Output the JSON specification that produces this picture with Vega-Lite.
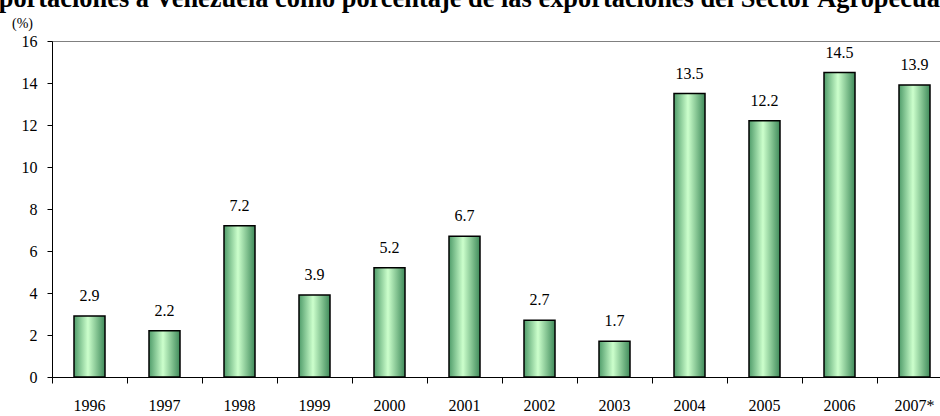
{
  "$schema": "https://vega.github.io/schema/vega-lite/v6.json",
  "autosize": "none",
  "padding": {"left": 52, "top": 41, "right": 0, "bottom": 39},
  "width": 900,
  "height": 336,
  "background": "white",
  "config": {"view": {"stroke": "#808080", "strokeWidth": 1}, "font": "Liberation Serif"},
  "title": {
    "text": "Exportaciones a Venezuela como porcentaje de las exportaciones del Sector Agropecuario",
    "font": "Liberation Serif",
    "fontSize": 26.4,
    "fontWeight": "bold",
    "color": "#000000",
    "anchor": "middle",
    "frame": "group",
    "baseline": "alphabetic",
    "offset": -17,
    "dx": -32
  },
  "data": {
    "values": [
      {"year": "1996", "value": 2.9},
      {"year": "1997", "value": 2.2},
      {"year": "1998", "value": 7.2},
      {"year": "1999", "value": 3.9},
      {"year": "2000", "value": 5.2},
      {"year": "2001", "value": 6.7},
      {"year": "2002", "value": 2.7},
      {"year": "2003", "value": 1.7},
      {"year": "2004", "value": 13.5},
      {"year": "2005", "value": 12.2},
      {"year": "2006", "value": 14.5},
      {"year": "2007*", "value": 13.9}
    ]
  },
  "encoding": {
    "x": {
      "field": "year",
      "type": "ordinal",
      "sort": null,
      "scale": {"paddingInner": 0, "paddingOuter": 0},
      "axis": {
        "title": null,
        "labelAngle": 0,
        "bandPosition": 0,
        "labelOffset": 0,
        "labelFont": "Liberation Serif",
        "labelFontSize": 16,
        "labelColor": "#000000",
        "labelPadding": 14,
        "tickSize": 6,
        "tickColor": "#000000",
        "domainColor": "#000000",
        "domainWidth": 1,
        "grid": false
      }
    },
    "y": {
      "field": "value",
      "type": "quantitative",
      "scale": {"domain": [0, 16]},
      "axis": {
        "title": "(%)",
        "titleAngle": 0,
        "titleX": -30,
        "titleY": -14,
        "titleAlign": "center",
        "titleBaseline": "alphabetic",
        "titleFont": "Liberation Serif",
        "titleFontSize": 14,
        "titleFontWeight": "normal",
        "titleColor": "#000000",
        "values": [0, 2, 4, 6, 8, 10, 12, 14, 16],
        "labelFont": "Liberation Serif",
        "labelFontSize": 16,
        "labelColor": "#000000",
        "labelPadding": 10,
        "tickSize": 5,
        "tickColor": "#000000",
        "domainColor": "#000000",
        "grid": false
      }
    }
  },
  "layer": [
    {
      "mark": {
        "type": "bar",
        "width": 31,
        "stroke": "#000000",
        "strokeWidth": 1.5,
        "color": {
          "gradient": "linear",
          "x1": 0, "x2": 1, "y1": 0, "y2": 0,
          "stops": [
            {"offset": 0, "color": "#4f9c6a"},
            {"offset": 0.45, "color": "#ccffcc"},
            {"offset": 1, "color": "#3f8a5a"}
          ]
        }
      }
    },
    {
      "mark": {
        "type": "text",
        "baseline": "alphabetic",
        "dy": -15,
        "font": "Liberation Serif",
        "fontSize": 16,
        "color": "#000000"
      },
      "encoding": {"text": {"field": "value", "type": "quantitative", "format": ".1f"}}
    }
  ]
}
